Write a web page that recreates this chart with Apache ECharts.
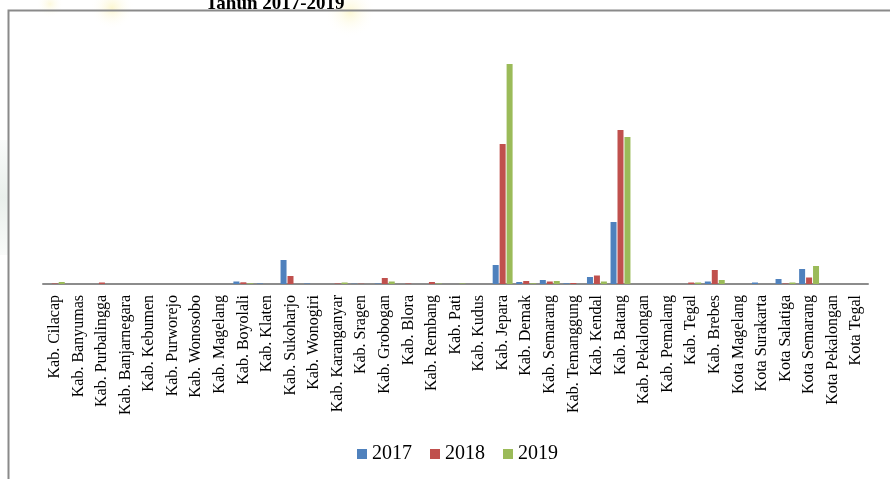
<!DOCTYPE html>
<html>
<head>
<meta charset="utf-8">
<script src="https://cdn.jsdelivr.net/npm/echarts@6/dist/echarts.min.js"></script>
<style>
  html, body { margin: 0; padding: 0; background: #ffffff; }
  #chart { width: 890px; height: 479px; }
</style>
</head>
<body>
<div id="chart"></div>
<script>
// Regencies and cities of Central Java
const categories = [
  'Kab. Cilacap', 'Kab. Banyumas', 'Kab. Purbalingga', 'Kab. Banjarnegara',
  'Kab. Kebumen', 'Kab. Purworejo', 'Kab. Wonosobo', 'Kab. Magelang',
  'Kab. Boyolali', 'Kab. Klaten', 'Kab. Sukoharjo', 'Kab. Wonogiri',
  'Kab. Karanganyar', 'Kab. Sragen', 'Kab. Grobogan', 'Kab. Blora',
  'Kab. Rembang', 'Kab. Pati', 'Kab. Kudus', 'Kab. Jepara', 'Kab. Demak',
  'Kab. Semarang', 'Kab. Temanggung', 'Kab. Kendal', 'Kab. Batang',
  'Kab. Pekalongan', 'Kab. Pemalang', 'Kab. Tegal', 'Kab. Brebes',
  'Kota Magelang', 'Kota Surakarta', 'Kota Salatiga', 'Kota Semarang',
  'Kota Pekalongan', 'Kota Tegal'
];

const values2017 = [
  0, 0, 0, 0, 0, 0, 0, 0, 2.5, 0.5, 24, 0.5, 0, 0.3, 0.5, 0, 0, 0, 0,
  19, 2, 4, 0.7, 7, 62, 0, 0, 0, 2.5, 0, 1.5, 5, 15, 0, 0
];
const values2018 = [
  0.5, 0, 1.5, 0, 0, 0, 0, 0, 1.7, 0, 8, 0, 0.5, 0.3, 6, 0.5, 2, 0, 0,
  140, 3, 2.5, 1, 8.5, 154, 0, 0, 1.5, 14, 0, 0, 0.5, 6.5, 0, 0
];
const values2019 = [
  2, 0, 0, 0, 0, 0, 0, 0, 0.7, 0, 0, 0, 1.5, 0, 2.5, 0, 0.5, 0.5, 0,
  220, 0.7, 3, 0, 2.5, 147, 0, 0, 1.5, 4, 0, 0, 1.5, 18, 0, 0
];

const seriesNames = ['2017', '2018', '2019'];
const seriesColors = ['#4F81BD', '#C0504D', '#9BBB59'];
const seriesValues = [values2017, values2018, values2019];

const serif = 'Liberation Serif';

const chart = echarts.init(document.getElementById('chart'), null, { renderer: 'canvas' });

// soft background blotches of the page behind the chart frame
const haze = (cx, cy, r, color) => ({
  type: 'circle',
  silent: true,
  z: -10,
  shape: { cx: cx, cy: cy, r: r },
  style: {
    fill: new echarts.graphic.RadialGradient(0.5, 0.5, 0.5, [
      { offset: 0, color: color },
      { offset: 1, color: 'rgba(255,255,255,0)' }
    ])
  }
});

chart.setOption({
  backgroundColor: '#ffffff',
  animation: false,
  textStyle: { fontFamily: serif },
  title: {
    text: 'Tahun 2017-2019',
    left: 270,
    textAlign: 'center',
    top: -10,
    textStyle: { fontFamily: serif, fontSize: 19, fontWeight: 'bold', color: '#000' }
  },
  graphic: [
    haze(112, 8, 22, 'rgba(250,240,170,0.55)'),
    haze(350, 12, 26, 'rgba(250,240,170,0.5)'),
    haze(50, 4, 14, 'rgba(250,240,170,0.4)'),
    {
      type: 'rect',
      silent: true,
      z: -10,
      shape: { x: 0, y: 140, width: 8, height: 115 },
      style: {
        fill: new echarts.graphic.LinearGradient(0, 0, 0, 1, [
          { offset: 0, color: 'rgba(200,215,205,0.1)' },
          { offset: 0.5, color: 'rgba(200,215,205,0.4)' },
          { offset: 1, color: 'rgba(200,215,205,0.1)' }
        ])
      }
    },
    {
      type: 'rect',
      silent: true,
      shape: { x: 8.5, y: 10.5, width: 1000, height: 600 },
      style: { fill: 'none', stroke: '#8a8a8a', lineWidth: 2 }
    }
  ],
  legend: {
    data: seriesNames,
    left: 357,
    top: 444,
    padding: 0,
    itemWidth: 10,
    itemHeight: 10,
    itemGap: 18,
    icon: 'rect',
    textStyle: { fontFamily: serif, fontSize: 20, color: '#000' }
  },
  grid: { left: 43, right: 22, top: 64, bottom: 195, containLabel: false },
  xAxis: {
    type: 'category',
    data: categories,
    axisLine: { show: true, lineStyle: { color: '#8c8c8c', width: 2 } },
    axisTick: { show: false },
    axisLabel: {
      interval: 0,
      rotate: 90,
      margin: 11,
      fontFamily: serif,
      fontSize: 16,
      color: '#000'
    }
  },
  yAxis: {
    type: 'value',
    min: 0,
    max: 220,
    show: false,
    splitLine: { show: false }
  },
  series: seriesNames.map((name, i) => ({
    name: name,
    type: 'bar',
    data: seriesValues[i],
    barWidth: 6,
    barGap: '16%',
    itemStyle: { color: seriesColors[i] }
  }))
});
</script>
</body>
</html>
